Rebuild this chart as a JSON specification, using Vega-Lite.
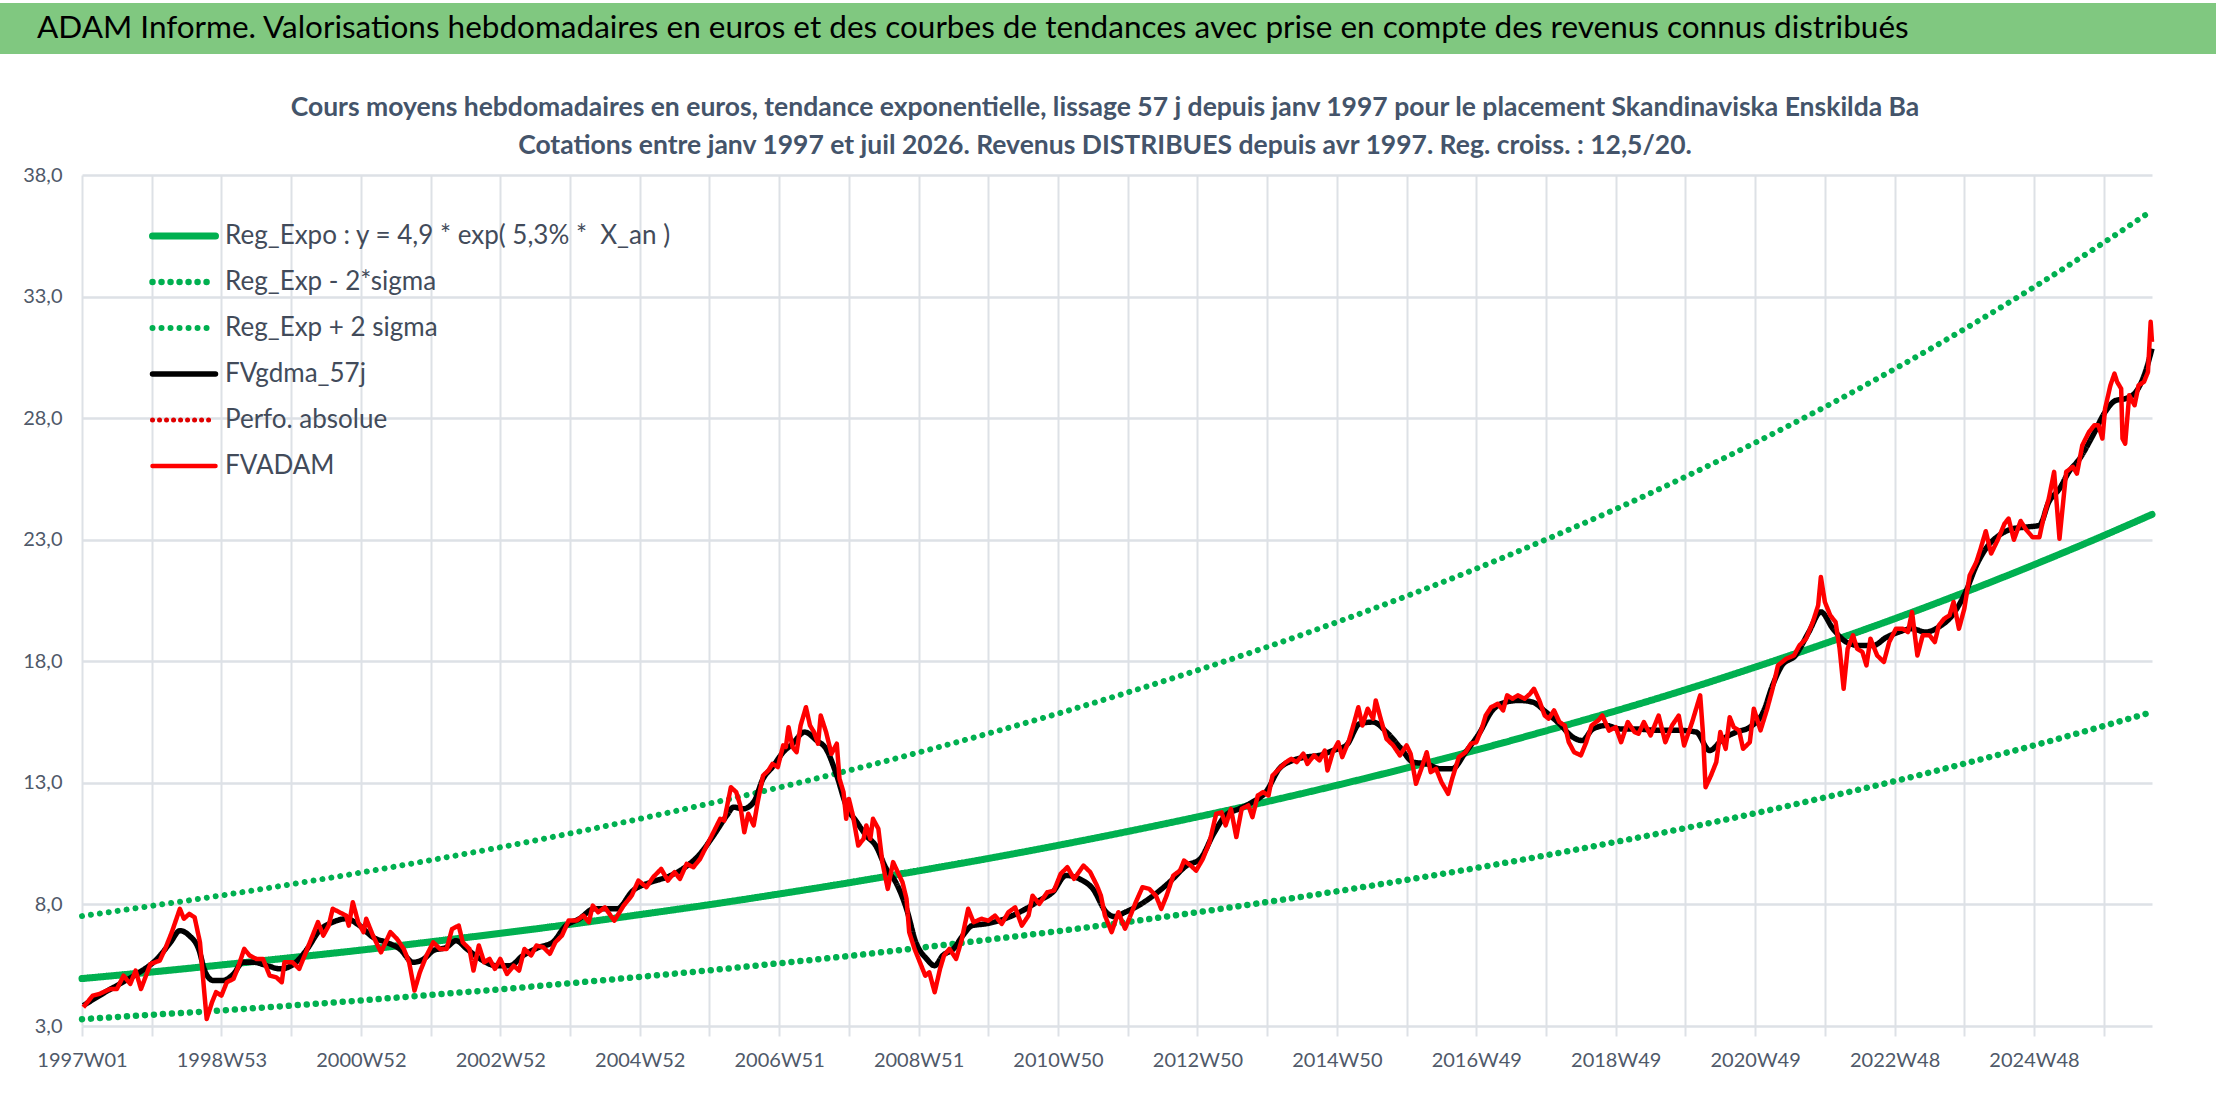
{
  "$schema": "https://vega.github.io/schema/vega-lite/v6.json",
  "background": "white",
  "padding": {"left": 0, "top": 3, "right": 0, "bottom": 0},
  "spacing": 40,
  "datasets": {
    "trend": [
      {"w":0,"e":4.95,"lo":3.28,"hi":7.52},{"w":52,"e":5.22,"lo":3.46,"hi":7.94},{"w":104,"e":5.51,"lo":3.64,"hi":8.37},
      {"w":156,"e":5.81,"lo":3.84,"hi":8.83},{"w":208,"e":6.12,"lo":4.05,"hi":9.31},{"w":260,"e":6.46,"lo":4.28,"hi":9.82},
      {"w":312,"e":6.81,"lo":4.51,"hi":10.35},{"w":364,"e":7.18,"lo":4.76,"hi":10.92},{"w":416,"e":7.58,"lo":5.02,"hi":11.52},
      {"w":468,"e":7.99,"lo":5.29,"hi":12.15},{"w":520,"e":8.43,"lo":5.58,"hi":12.81},{"w":572,"e":8.89,"lo":5.88,"hi":13.51},
      {"w":624,"e":9.38,"lo":6.21,"hi":14.25},{"w":676,"e":9.89,"lo":6.55,"hi":15.03},{"w":728,"e":10.43,"lo":6.9,"hi":15.85},
      {"w":780,"e":11.0,"lo":7.28,"hi":16.72},{"w":832,"e":11.6,"lo":7.68,"hi":17.63},{"w":884,"e":12.23,"lo":8.1,"hi":18.59},
      {"w":936,"e":12.9,"lo":8.54,"hi":19.61},{"w":988,"e":13.61,"lo":9.01,"hi":20.68},{"w":1040,"e":14.35,"lo":9.5,"hi":21.81},
      {"w":1092,"e":15.14,"lo":10.02,"hi":23.01},{"w":1144,"e":15.96,"lo":10.57,"hi":24.26},{"w":1196,"e":16.83,"lo":11.14,"hi":25.59},
      {"w":1248,"e":17.76,"lo":11.75,"hi":26.99},{"w":1300,"e":18.73,"lo":12.4,"hi":28.46},{"w":1352,"e":19.75,"lo":13.07,"hi":30.02},
      {"w":1404,"e":20.83,"lo":13.79,"hi":31.66},{"w":1456,"e":21.97,"lo":14.54,"hi":33.39},{"w":1508,"e":23.17,"lo":15.34,"hi":35.22},
      {"w":1544,"e":24.04,"lo":15.91,"hi":36.54}
    ],
    "gdma": [
      {"w":1,"v":3.84},{"w":13,"v":4.25},{"w":28,"v":4.73},{"w":43,"v":5.21},{"w":56,"v":5.76},{"w":66,"v":6.44},{"w":73,"v":6.92},
      {"w":80,"v":6.72},{"w":87,"v":6.17},{"w":92,"v":5.21},{"w":98,"v":4.87},{"w":105,"v":4.87},{"w":113,"v":5.14},{"w":120,"v":5.62},
      {"w":128,"v":5.62},{"w":138,"v":5.48},{"w":148,"v":5.35},{"w":158,"v":5.55},{"w":168,"v":6.17},{"w":177,"v":6.92},{"w":187,"v":7.27},
      {"w":197,"v":7.41},{"w":207,"v":7.13},{"w":217,"v":6.65},{"w":227,"v":6.44},{"w":237,"v":6.17},{"w":247,"v":5.62},{"w":255,"v":5.76},
      {"w":262,"v":6.1},{"w":272,"v":6.24},{"w":279,"v":6.51},{"w":287,"v":6.17},{"w":297,"v":5.76},{"w":309,"v":5.48},{"w":319,"v":5.48},
      {"w":329,"v":5.9},{"w":341,"v":6.24},{"w":351,"v":6.44},{"w":361,"v":7.13},{"w":371,"v":7.41},{"w":382,"v":7.82},{"w":399,"v":7.82},
      {"w":411,"v":8.57},{"w":424,"v":8.91},{"w":436,"v":9.12},{"w":448,"v":9.46},{"w":461,"v":10.08},{"w":471,"v":10.83},{"w":481,"v":11.66},
      {"w":486,"v":12.0},{"w":493,"v":11.93},{"w":501,"v":12.21},{"w":508,"v":13.17},{"w":515,"v":13.65},{"w":523,"v":14.26},{"w":530,"v":14.61},
      {"w":539,"v":15.09},{"w":548,"v":14.74},{"w":555,"v":14.4},{"w":563,"v":13.3},{"w":570,"v":12.07},{"w":578,"v":11.38},{"w":585,"v":10.83},
      {"w":592,"v":10.42},{"w":600,"v":9.46},{"w":607,"v":8.91},{"w":615,"v":7.82},{"w":622,"v":6.44},{"w":630,"v":5.76},{"w":636,"v":5.48},
      {"w":642,"v":5.9},{"w":650,"v":6.17},{"w":657,"v":6.72},{"w":664,"v":7.13},{"w":674,"v":7.2},{"w":684,"v":7.33},{"w":694,"v":7.54},
      {"w":704,"v":7.82},{"w":714,"v":8.16},{"w":724,"v":8.5},{"w":734,"v":9.19},{"w":744,"v":9.05},{"w":754,"v":8.64},{"w":764,"v":7.68},
      {"w":770,"v":7.5},{"w":778,"v":7.68},{"w":786,"v":7.89},{"w":799,"v":8.36},{"w":811,"v":8.91},{"w":824,"v":9.6},{"w":834,"v":9.87},
      {"w":844,"v":10.9},{"w":853,"v":11.66},{"w":863,"v":11.93},{"w":873,"v":12.21},{"w":883,"v":12.62},{"w":893,"v":13.58},{"w":903,"v":13.92},
      {"w":913,"v":14.06},{"w":923,"v":14.13},{"w":933,"v":14.33},{"w":943,"v":14.54},{"w":953,"v":15.43},{"w":963,"v":15.5},{"w":973,"v":15.09},
      {"w":983,"v":14.47},{"w":993,"v":13.85},{"w":1003,"v":13.78},{"w":1013,"v":13.58},{"w":1022,"v":13.58},{"w":1032,"v":14.26},{"w":1042,"v":15.02},
      {"w":1052,"v":15.98},{"w":1062,"v":16.32},{"w":1072,"v":16.39},{"w":1082,"v":16.32},{"w":1092,"v":15.91},{"w":1102,"v":15.43},{"w":1112,"v":14.88},
      {"w":1119,"v":14.74},{"w":1127,"v":15.22},{"w":1137,"v":15.36},{"w":1147,"v":15.22},{"w":1157,"v":15.22},{"w":1176,"v":15.16},{"w":1191,"v":15.16},
      {"w":1204,"v":15.09},{"w":1214,"v":14.33},{"w":1224,"v":14.81},{"w":1234,"v":15.09},{"w":1244,"v":15.29},{"w":1254,"v":15.91},{"w":1261,"v":17.01},
      {"w":1268,"v":17.83},{"w":1278,"v":18.24},{"w":1288,"v":19.2},{"w":1297,"v":20.03},{"w":1306,"v":19.34},{"w":1316,"v":18.79},{"w":1326,"v":18.65},
      {"w":1336,"v":18.65},{"w":1346,"v":18.99},{"w":1355,"v":19.2},{"w":1365,"v":19.34},{"w":1375,"v":19.2},{"w":1385,"v":19.41},{"w":1395,"v":19.89},
      {"w":1405,"v":20.85},{"w":1413,"v":21.94},{"w":1420,"v":22.63},{"w":1430,"v":23.18},{"w":1440,"v":23.45},{"w":1450,"v":23.52},{"w":1460,"v":23.59},
      {"w":1467,"v":24.55},{"w":1475,"v":25.1},{"w":1482,"v":25.79},{"w":1490,"v":26.33},{"w":1500,"v":27.3},{"w":1509,"v":28.25},{"w":1517,"v":28.73},
      {"w":1524,"v":28.8},{"w":1532,"v":29.08},{"w":1539,"v":29.9},{"w":1544,"v":30.86}
    ],
    "adam": [
      {"w":1,"v":3.77},{"w":8,"v":4.25},{"w":13,"v":4.32},{"w":21,"v":4.52},{"w":26,"v":4.52},{"w":31,"v":5.07},{"w":36,"v":4.73},{"w":40,"v":5.28},
      {"w":44,"v":4.52},{"w":51,"v":5.55},{"w":58,"v":5.69},{"w":62,"v":6.17},{"w":67,"v":6.86},{"w":73,"v":7.82},{"w":76,"v":7.41},{"w":80,"v":7.61},
      {"w":84,"v":7.47},{"w":88,"v":6.44},{"w":91,"v":4.52},{"w":93,"v":3.29},{"w":97,"v":3.98},{"w":100,"v":4.39},{"w":104,"v":4.25},{"w":108,"v":4.8},
      {"w":113,"v":4.94},{"w":116,"v":5.35},{"w":121,"v":6.17},{"w":125,"v":5.9},{"w":130,"v":5.76},{"w":135,"v":5.76},{"w":140,"v":5.07},{"w":145,"v":5.0},
      {"w":149,"v":4.8},{"w":151,"v":5.62},{"w":157,"v":5.62},{"w":162,"v":5.35},{"w":167,"v":6.03},{"w":172,"v":6.72},{"w":176,"v":7.27},{"w":180,"v":6.72},
      {"w":184,"v":7.13},{"w":187,"v":7.82},{"w":192,"v":7.68},{"w":197,"v":7.54},{"w":199,"v":7.13},{"w":202,"v":8.09},{"w":206,"v":7.27},{"w":210,"v":6.86},
      {"w":212,"v":7.41},{"w":217,"v":6.72},{"w":223,"v":6.03},{"w":230,"v":6.86},{"w":235,"v":6.58},{"w":240,"v":6.17},{"w":244,"v":5.62},{"w":248,"v":4.46},
      {"w":252,"v":5.21},{"w":257,"v":5.9},{"w":262,"v":6.44},{"w":267,"v":6.17},{"w":272,"v":6.17},{"w":276,"v":6.99},{"w":281,"v":7.13},{"w":284,"v":6.44},
      {"w":289,"v":6.17},{"w":292,"v":5.28},{"w":296,"v":6.31},{"w":300,"v":5.62},{"w":304,"v":5.76},{"w":308,"v":5.35},{"w":312,"v":5.76},{"w":317,"v":5.14},
      {"w":322,"v":5.48},{"w":326,"v":5.28},{"w":330,"v":6.17},{"w":335,"v":5.9},{"w":339,"v":6.31},{"w":344,"v":6.24},{"w":349,"v":5.97},{"w":353,"v":6.44},
      {"w":358,"v":6.72},{"w":363,"v":7.34},{"w":369,"v":7.34},{"w":374,"v":7.54},{"w":378,"v":7.27},{"w":381,"v":7.95},{"w":385,"v":7.68},{"w":390,"v":7.88},
      {"w":397,"v":7.33},{"w":404,"v":7.95},{"w":410,"v":8.36},{"w":415,"v":8.98},{"w":421,"v":8.71},{"w":426,"v":9.12},{"w":432,"v":9.46},{"w":437,"v":8.98},
      {"w":442,"v":9.33},{"w":446,"v":9.05},{"w":451,"v":9.67},{"w":456,"v":9.53},{"w":461,"v":9.87},{"w":466,"v":10.42},{"w":471,"v":10.97},{"w":476,"v":11.52},
      {"w":479,"v":11.45},{"w":484,"v":12.82},{"w":488,"v":12.62},{"w":491,"v":12.07},{"w":494,"v":10.97},{"w":497,"v":11.73},{"w":501,"v":11.25},{"w":504,"v":12.21},
      {"w":508,"v":13.3},{"w":512,"v":13.51},{"w":515,"v":13.78},{"w":519,"v":13.65},{"w":523,"v":14.54},{"w":525,"v":14.47},{"w":527,"v":15.29},{"w":530,"v":14.47},
      {"w":533,"v":14.26},{"w":536,"v":15.36},{"w":540,"v":16.11},{"w":543,"v":15.36},{"w":546,"v":15.09},{"w":549,"v":14.61},{"w":551,"v":15.77},{"w":555,"v":15.09},
      {"w":559,"v":14.19},{"w":563,"v":14.61},{"w":565,"v":13.17},{"w":568,"v":12.62},{"w":570,"v":11.52},{"w":572,"v":12.34},{"w":575,"v":11.66},{"w":579,"v":10.42},
      {"w":583,"v":10.7},{"w":585,"v":11.25},{"w":588,"v":10.7},{"w":590,"v":11.52},{"w":594,"v":11.11},{"w":597,"v":9.74},{"w":601,"v":8.64},{"w":605,"v":9.74},
      {"w":609,"v":9.26},{"w":612,"v":8.91},{"w":615,"v":8.23},{"w":617,"v":6.86},{"w":621,"v":6.17},{"w":625,"v":5.62},{"w":629,"v":5.07},{"w":632,"v":5.21},
      {"w":636,"v":4.39},{"w":640,"v":5.35},{"w":643,"v":5.9},{"w":647,"v":6.17},{"w":652,"v":5.76},{"w":656,"v":6.51},{"w":661,"v":7.82},{"w":665,"v":7.27},
      {"w":671,"v":7.41},{"w":676,"v":7.33},{"w":681,"v":7.54},{"w":686,"v":7.2},{"w":691,"v":7.68},{"w":696,"v":7.88},{"w":701,"v":7.13},{"w":706,"v":7.54},
      {"w":709,"v":8.36},{"w":714,"v":8.02},{"w":720,"v":8.5},{"w":725,"v":8.57},{"w":730,"v":9.26},{"w":735,"v":9.53},{"w":740,"v":9.05},{"w":747,"v":9.6},
      {"w":752,"v":9.33},{"w":757,"v":8.78},{"w":760,"v":8.36},{"w":763,"v":7.54},{"w":768,"v":6.86},{"w":773,"v":7.68},{"w":778,"v":7.0},{"w":781,"v":7.4},
      {"w":786,"v":8.09},{"w":791,"v":8.71},{"w":796,"v":8.64},{"w":801,"v":8.36},{"w":805,"v":7.82},{"w":809,"v":8.36},{"w":814,"v":9.19},{"w":819,"v":9.39},
      {"w":822,"v":9.8},{"w":827,"v":9.6},{"w":831,"v":9.39},{"w":836,"v":9.87},{"w":841,"v":10.56},{"w":846,"v":11.73},{"w":850,"v":11.79},{"w":853,"v":11.25},
      {"w":857,"v":11.93},{"w":861,"v":10.77},{"w":865,"v":11.93},{"w":870,"v":12.07},{"w":873,"v":11.59},{"w":877,"v":12.48},{"w":881,"v":12.62},{"w":885,"v":12.48},
      {"w":888,"v":13.3},{"w":893,"v":13.58},{"w":898,"v":13.85},{"w":902,"v":13.99},{"w":906,"v":13.85},{"w":911,"v":14.2},{"w":914,"v":13.78},{"w":919,"v":14.13},
      {"w":923,"v":13.92},{"w":927,"v":14.33},{"w":929,"v":13.51},{"w":933,"v":14.26},{"w":937,"v":14.67},{"w":940,"v":14.06},{"w":945,"v":14.74},{"w":949,"v":15.5},
      {"w":952,"v":16.11},{"w":955,"v":15.36},{"w":959,"v":16.05},{"w":963,"v":15.64},{"w":965,"v":16.39},{"w":969,"v":15.57},{"w":973,"v":14.81},{"w":978,"v":14.54},
      {"w":983,"v":14.13},{"w":988,"v":14.54},{"w":991,"v":14.2},{"w":995,"v":12.96},{"w":999,"v":13.58},{"w":1003,"v":14.26},{"w":1006,"v":13.44},{"w":1010,"v":13.58},
      {"w":1014,"v":13.03},{"w":1019,"v":12.55},{"w":1022,"v":13.17},{"w":1027,"v":14.06},{"w":1032,"v":14.26},{"w":1036,"v":14.61},{"w":1040,"v":14.67},{"w":1044,"v":15.22},
      {"w":1047,"v":15.77},{"w":1051,"v":16.11},{"w":1056,"v":16.25},{"w":1060,"v":15.98},{"w":1063,"v":16.6},{"w":1067,"v":16.46},{"w":1071,"v":16.6},{"w":1076,"v":16.46},
      {"w":1080,"v":16.66},{"w":1083,"v":16.87},{"w":1087,"v":16.39},{"w":1091,"v":15.77},{"w":1094,"v":15.64},{"w":1098,"v":15.98},{"w":1102,"v":15.5},{"w":1106,"v":15.36},
      {"w":1109,"v":14.67},{"w":1113,"v":14.26},{"w":1118,"v":14.13},{"w":1122,"v":14.67},{"w":1126,"v":15.36},{"w":1131,"v":15.57},{"w":1134,"v":15.77},{"w":1139,"v":15.15},
      {"w":1144,"v":15.29},{"w":1148,"v":14.67},{"w":1153,"v":15.5},{"w":1158,"v":15.09},{"w":1161,"v":15.02},{"w":1165,"v":15.5},{"w":1170,"v":14.95},{"w":1176,"v":15.77},
      {"w":1181,"v":14.67},{"w":1186,"v":15.36},{"w":1191,"v":15.77},{"w":1195,"v":14.54},{"w":1201,"v":15.5},{"w":1207,"v":16.6},{"w":1209,"v":15.09},{"w":1211,"v":12.82},
      {"w":1215,"v":13.3},{"w":1219,"v":13.85},{"w":1222,"v":15.09},{"w":1226,"v":14.4},{"w":1229,"v":15.7},{"w":1232,"v":15.29},{"w":1236,"v":15.16},{"w":1239,"v":14.4},
      {"w":1244,"v":14.67},{"w":1247,"v":16.05},{"w":1252,"v":15.16},{"w":1257,"v":16.05},{"w":1261,"v":16.87},{"w":1265,"v":17.83},{"w":1271,"v":18.1},{"w":1277,"v":18.24},
      {"w":1281,"v":18.65},{"w":1286,"v":18.93},{"w":1291,"v":19.61},{"w":1295,"v":20.3},{"w":1297,"v":21.47},{"w":1300,"v":20.44},{"w":1304,"v":19.89},{"w":1308,"v":19.61},
      {"w":1311,"v":18.52},{"w":1314,"v":16.87},{"w":1317,"v":18.52},{"w":1321,"v":19.07},{"w":1324,"v":18.52},{"w":1328,"v":18.38},{"w":1331,"v":17.83},{"w":1334,"v":18.93},
      {"w":1339,"v":18.24},{"w":1344,"v":17.97},{"w":1348,"v":18.79},{"w":1353,"v":19.34},{"w":1358,"v":19.34},{"w":1362,"v":19.2},{"w":1365,"v":20.03},{"w":1369,"v":18.24},
      {"w":1373,"v":19.07},{"w":1378,"v":19.07},{"w":1382,"v":18.79},{"w":1385,"v":19.48},{"w":1389,"v":19.75},{"w":1393,"v":19.89},{"w":1396,"v":20.44},{"w":1400,"v":19.34},
      {"w":1404,"v":20.16},{"w":1408,"v":21.53},{"w":1413,"v":22.08},{"w":1416,"v":22.6},{"w":1420,"v":23.35},{"w":1424,"v":22.43},{"w":1429,"v":23.0},{"w":1434,"v":23.66},
      {"w":1437,"v":23.87},{"w":1441,"v":23.0},{"w":1446,"v":23.77},{"w":1450,"v":23.42},{"w":1455,"v":23.1},{"w":1460,"v":23.1},{"w":1463,"v":23.87},{"w":1467,"v":24.69},
      {"w":1471,"v":25.79},{"w":1475,"v":23.04},{"w":1480,"v":25.79},{"w":1485,"v":26.0},{"w":1488,"v":25.72},{"w":1492,"v":26.88},{"w":1497,"v":27.43},{"w":1501,"v":27.71},
      {"w":1504,"v":27.71},{"w":1507,"v":27.16},{"w":1509,"v":28.39},{"w":1513,"v":29.35},{"w":1516,"v":29.83},{"w":1518,"v":29.49},{"w":1521,"v":29.21},{"w":1522,"v":27.16},
      {"w":1524,"v":26.95},{"w":1527,"v":28.94},{"w":1531,"v":28.53},{"w":1534,"v":29.35},{"w":1538,"v":29.49},{"w":1541,"v":29.9},{"w":1543,"v":31.96},{"w":1544,"v":31.14}
    ]
  },
  "vconcat": [
    {
      "width": 2134,
      "height": 51,
      "data": {"values": [{"t": "ADAM Informe. Valorisations hebdomadaires en euros et des courbes de tendances avec prise en compte des revenus connus distribués"}]},
      "layer": [
        {
          "mark": {"type": "rect", "color": "#80C880"},
          "encoding": {
            "x": {"datum": 0, "type": "quantitative", "scale": {"domain": [0, 1], "range": [-82, 2134]}, "axis": null},
            "x2": {"datum": 1},
            "y": {"datum": 0, "type": "quantitative", "scale": {"domain": [0, 1]}, "axis": null},
            "y2": {"datum": 1}
          }
        },
        {
          "mark": {"type": "text", "align": "left", "baseline": "middle", "font": "Lato", "fontSize": 31.5, "color": "#000000"},
          "encoding": {
            "x": {"datum": 0.0167, "type": "quantitative"},
            "y": {"datum": 0.5, "type": "quantitative"},
            "text": {"field": "t"}
          }
        }
      ]
    },
    {
      "width": 2070,
      "height": 851,
      "title": {
        "text": [
          "Cours moyens hebdomadaires en euros, tendance exponentielle, lissage 57 j depuis janv 1997 pour le placement Skandinaviska Enskilda Ba",
          "Cotations entre janv 1997 et juil 2026. Revenus DISTRIBUES depuis avr 1997. Reg. croiss. : 12,5/20."
        ],
        "font": "Lato",
        "fontSize": 26.5,
        "fontWeight": "bold",
        "color": "#44546A",
        "lineHeight": 38,
        "anchor": "middle",
        "frame": "group",
        "offset": 6,
        "dx": -12
      },
      "encoding": {
        "x": {
          "field": "w",
          "type": "quantitative",
          "scale": {"domain": [0, 1544], "nice": false, "zero": false},
          "axis": {
            "title": null,
            "values": [0,52,104,156,208,260,312,364,416,468,520,572,624,676,728,780,832,884,936,988,1040,1092,1144,1196,1248,1300,1352,1404,1456,1508],
            "labelExpr": "['1997W01','','1998W53','','2000W52','','2002W52','','2004W52','','2006W51','','2008W51','','2010W50','','2012W50','','2014W50','','2016W49','','2018W49','','2020W49','','2022W48','','2024W48',''][round(datum.value/52)]",
            "labelOverlap": false,
            "labelFlush": false,
            "domain": false,
            "grid": true,
            "gridColor": "#DDE1E6",
            "gridWidth": 2,
            "ticks": true,
            "tickSize": 10,
            "tickColor": "#DDE1E6",
            "tickWidth": 2,
            "labelPadding": 14,
            "labelFont": "Lato",
            "labelFontSize": 20,
            "labelColor": "#4F5969"
          }
        },
        "y": {
          "field": "v",
          "type": "quantitative",
          "scale": {"domain": [3, 38], "nice": false, "zero": false},
          "axis": {
            "title": null,
            "values": [3, 8, 13, 18, 23, 28, 33, 38],
            "labelExpr": "replace(format(datum.value, '.1f'), '.', ',')",
            "domain": false,
            "ticks": false,
            "grid": true,
            "gridColor": "#DDE1E6",
            "gridWidth": 2.5,
            "labelPadding": 20,
            "minExtent": 82,
            "labelFont": "Lato",
            "labelFontSize": 20,
            "labelColor": "#4F5969"
          }
        }
      },
      "layer": [
        {
          "data": {"name": "trend"},
          "mark": {"type": "line", "interpolate": "monotone", "strokeCap": "round"},
          "encoding": {
            "y": {"field": "e", "type": "quantitative"},
            "color": {
              "datum": "Reg_Expo : y = 4,9 * exp( 5,3% * \u00a0X_an )",
              "type": "nominal",
              "scale": {
                "domain": ["Reg_Expo : y = 4,9 * exp( 5,3% * \u00a0X_an )", "Reg_Exp - 2*sigma", "Reg_Exp + 2 sigma", "FVgdma_57j", "Perfo. absolue", "FVADAM"],
                "range": ["#00B050", "#00B050", "#00B050", "#000000", "#E00000", "#FF0000"]
              },
              "legend": {"title": null, "encode": {"symbols": {"update": {"strokeCap": {"value": "round"}}}}}
            },
            "strokeDash": {
              "datum": "Reg_Expo : y = 4,9 * exp( 5,3% * \u00a0X_an )",
              "type": "nominal",
              "scale": {
                "domain": ["Reg_Expo : y = 4,9 * exp( 5,3% * \u00a0X_an )", "Reg_Exp - 2*sigma", "Reg_Exp + 2 sigma", "FVgdma_57j", "Perfo. absolue", "FVADAM"],
                "range": [[1, 0], [0.01, 9], [0.01, 9], [1, 0], [0.01, 7], [1, 0]]
              },
              "legend": {"title": null}
            },
            "strokeWidth": {
              "datum": "Reg_Expo : y = 4,9 * exp( 5,3% * \u00a0X_an )",
              "type": "ordinal",
              "scale": {
                "domain": ["Reg_Expo : y = 4,9 * exp( 5,3% * \u00a0X_an )", "Reg_Exp - 2*sigma", "Reg_Exp + 2 sigma", "FVgdma_57j", "Perfo. absolue", "FVADAM"],
                "range": [7, 4.5, 4.5, 4.5, 3, 6]
              },
              "legend": {"title": null}
            }
          }
        },
        {
          "data": {"name": "trend"},
          "mark": {"type": "line", "interpolate": "monotone", "strokeCap": "round"},
          "encoding": {
            "y": {"field": "lo", "type": "quantitative"},
            "color": {"datum": "Reg_Exp - 2*sigma", "type": "nominal"},
            "strokeDash": {"datum": "Reg_Exp - 2*sigma", "type": "nominal"},
            "strokeWidth": {"datum": "Reg_Exp - 2*sigma", "type": "ordinal"}
          }
        },
        {
          "data": {"name": "trend"},
          "mark": {"type": "line", "interpolate": "monotone", "strokeCap": "round"},
          "encoding": {
            "y": {"field": "hi", "type": "quantitative"},
            "color": {"datum": "Reg_Exp + 2 sigma", "type": "nominal"},
            "strokeDash": {"datum": "Reg_Exp + 2 sigma", "type": "nominal"},
            "strokeWidth": {"datum": "Reg_Exp + 2 sigma", "type": "ordinal"}
          }
        },
        {
          "data": {"name": "gdma"},
          "mark": {"type": "line", "interpolate": "monotone", "strokeJoin": "round"},
          "encoding": {
            "color": {"datum": "FVgdma_57j", "type": "nominal"},
            "strokeDash": {"datum": "FVgdma_57j", "type": "nominal"},
            "strokeWidth": {"datum": "FVgdma_57j", "type": "ordinal"}
          }
        },
        {
          "data": {"name": "adam"},
          "mark": {"type": "line", "strokeJoin": "round"},
          "encoding": {
            "color": {"datum": "FVADAM", "type": "nominal"},
            "strokeDash": {"datum": "FVADAM", "type": "nominal"},
            "strokeWidth": {"datum": "FVADAM", "type": "ordinal"}
          }
        }
      ]
    }
  ],
  "config": {
    "view": {"stroke": null},
    "legend": {
      "orient": "none",
      "legendX": 67,
      "legendY": 211,
      "symbolType": "stroke",
      "symbolSize": 3969,
      "clipHeight": 44,
      "rowPadding": 2,
      "labelOffset": 6,
      "labelFont": "Lato",
      "labelFontSize": 26,
      "labelColor": "#424B5A",
      "labelLimit": 0,
      "padding": 0
    }
  }
}
